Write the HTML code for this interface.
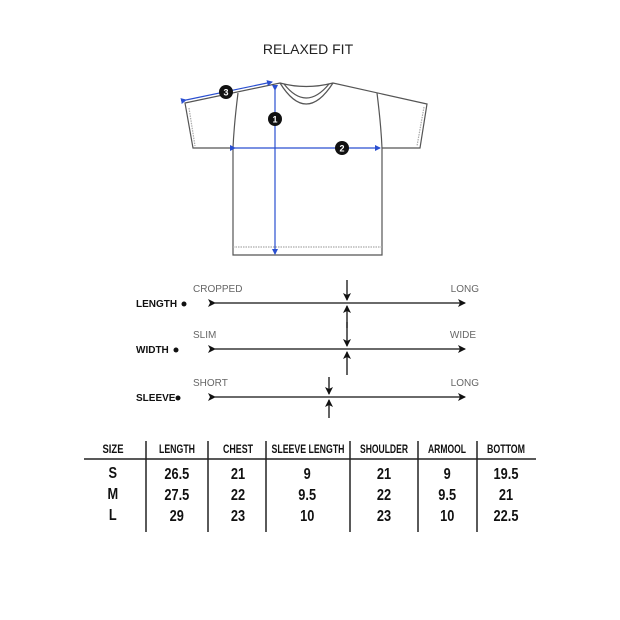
<!DOCTYPE html>
<html><head><style>
body{margin:0;background:#fff;width:620px;height:620px;overflow:hidden}
svg{display:block}
.t{font-family:"Liberation Sans",sans-serif}
.n{font-family:"Liberation Sans",sans-serif;font-weight:bold}
</style></head><body>
<svg width="620" height="620" viewBox="0 0 620 620" xmlns="http://www.w3.org/2000/svg">
<defs>
<marker id="ah" markerWidth="8" markerHeight="8" refX="7" refY="4" orient="auto" markerUnits="userSpaceOnUse"><path d="M0,0 L8,4 L0,8 L2,4 Z" fill="#111"/></marker>
<marker id="bh" markerWidth="6" markerHeight="6" refX="5" refY="3" orient="auto" markerUnits="userSpaceOnUse"><path d="M0,0 L6,3 L0,6 Z" fill="#2a4fd0"/></marker>
</defs>
<text x="308" y="54" text-anchor="middle" class="t" font-size="14" fill="#222">RELAXED FIT</text>
<g fill="none" stroke="#555" stroke-width="1.2">
<path d="M185,103 L280,83 Q306,90 333,83 L427,104 L420,148 L382,148 L382,255 L233,255 L233,148 L193,148 Z"/>
<path d="M280,83 Q306,125 333,83"/>
<path d="M284,84 Q306,112 329,84"/>
<path d="M238,93 Q234,125 233,148"/>
<path d="M377,93 Q381,125 382,148"/>
<path d="M233,247 L382,247" stroke="#aaa" stroke-dasharray="1.5 1"/>
<path d="M189,108 L195,146" stroke="#aaa" stroke-dasharray="1.5 1"/>
<path d="M424,107 L417,146" stroke="#aaa" stroke-dasharray="1.5 1"/>
</g>
<g stroke="#2a4fd0" stroke-width="1.2">
<line x1="275" y1="90" x2="275" y2="254" marker-start="url(#bh)" marker-end="url(#bh)"/>
<line x1="235" y1="148" x2="380" y2="148" marker-start="url(#bh)" marker-end="url(#bh)"/>
<line x1="186" y1="100" x2="272" y2="82" marker-start="url(#bh)" marker-end="url(#bh)"/>
</g>
<g class="t" font-size="9" font-weight="bold" fill="#fff" text-anchor="middle">
<circle cx="275" cy="119" r="7" fill="#111"/><text x="275" y="122.5">1</text>
<circle cx="342" cy="148" r="7" fill="#111"/><text x="342" y="151.5">2</text>
<circle cx="226" cy="92" r="7" fill="#111"/><text x="226" y="95.5">3</text>
</g>
<g class="t" font-size="10" fill="#666">
<text x="193" y="292">CROPPED</text><text x="479" y="292" text-anchor="end">LONG</text>
<text x="193" y="338">SLIM</text><text x="476" y="338" text-anchor="end">WIDE</text>
<text x="193" y="386">SHORT</text><text x="479" y="386" text-anchor="end">LONG</text>
</g>
<g class="t" font-size="10" font-weight="bold" fill="#111">
<text x="136" y="307">LENGTH</text><circle cx="184" cy="304" r="2.5"/>
<text x="136" y="353">WIDTH</text><circle cx="176" cy="350" r="2.5"/>
<text x="136" y="401">SLEEVE</text><circle cx="178" cy="398" r="2.5"/>
</g>
<g stroke="#111" stroke-width="1.3">
<line x1="215" y1="303" x2="465" y2="303" marker-start="url(#ah)" marker-end="url(#ah)"/>
<line x1="215" y1="349" x2="465" y2="349" marker-start="url(#ah)" marker-end="url(#ah)"/>
<line x1="215" y1="397" x2="465" y2="397" marker-start="url(#ah)" marker-end="url(#ah)"/>
<line x1="347" y1="280" x2="347" y2="300" marker-end="url(#ah)"/>
<line x1="347" y1="328" x2="347" y2="306" marker-end="url(#ah)"/>
<line x1="347" y1="322" x2="347" y2="346" marker-end="url(#ah)"/>
<line x1="347" y1="375" x2="347" y2="352" marker-end="url(#ah)"/>
<line x1="329" y1="377" x2="329" y2="394" marker-end="url(#ah)"/>
<line x1="329" y1="418" x2="329" y2="400" marker-end="url(#ah)"/>
</g>
<g stroke="#222" stroke-width="1.5">
<line x1="84" y1="459" x2="536" y2="459"/>
<line x1="146" y1="441" x2="146" y2="532"/>
<line x1="208" y1="441" x2="208" y2="532"/>
<line x1="266" y1="441" x2="266" y2="532"/>
<line x1="350" y1="441" x2="350" y2="532"/>
<line x1="418" y1="441" x2="418" y2="532"/>
<line x1="477" y1="441" x2="477" y2="532"/>
</g>
<g class="n" font-size="12" fill="#111" text-anchor="middle">
<text x="113" y="453" textLength="21" lengthAdjust="spacingAndGlyphs">SIZE</text>
<text x="177" y="453" textLength="36" lengthAdjust="spacingAndGlyphs">LENGTH</text>
<text x="238" y="453" textLength="30" lengthAdjust="spacingAndGlyphs">CHEST</text>
<text x="308" y="453" textLength="73" lengthAdjust="spacingAndGlyphs">SLEEVE LENGTH</text>
<text x="384" y="453" textLength="48" lengthAdjust="spacingAndGlyphs">SHOULDER</text>
<text x="447" y="453" textLength="38" lengthAdjust="spacingAndGlyphs">ARMOOL</text>
<text x="506" y="453" textLength="38" lengthAdjust="spacingAndGlyphs">BOTTOM</text>
</g>
<g class="n" font-size="16" fill="#111" text-anchor="middle" transform="scale(0.8,1)">
<text x="141" y="478">S</text><text x="221" y="479">26.5</text><text x="297.5" y="479">21</text><text x="384" y="479">9</text><text x="480" y="479">21</text><text x="559" y="479">9</text><text x="632.5" y="479">19.5</text>
<text x="141" y="499">M</text><text x="221" y="500">27.5</text><text x="297.5" y="500">22</text><text x="384" y="500">9.5</text><text x="480" y="500">22</text><text x="559" y="500">9.5</text><text x="632.5" y="500">21</text>
<text x="141" y="520">L</text><text x="221" y="521">29</text><text x="297.5" y="521">23</text><text x="384" y="521">10</text><text x="480" y="521">23</text><text x="559" y="521">10</text><text x="632.5" y="521">22.5</text>
</g>
</svg>
</body></html>
